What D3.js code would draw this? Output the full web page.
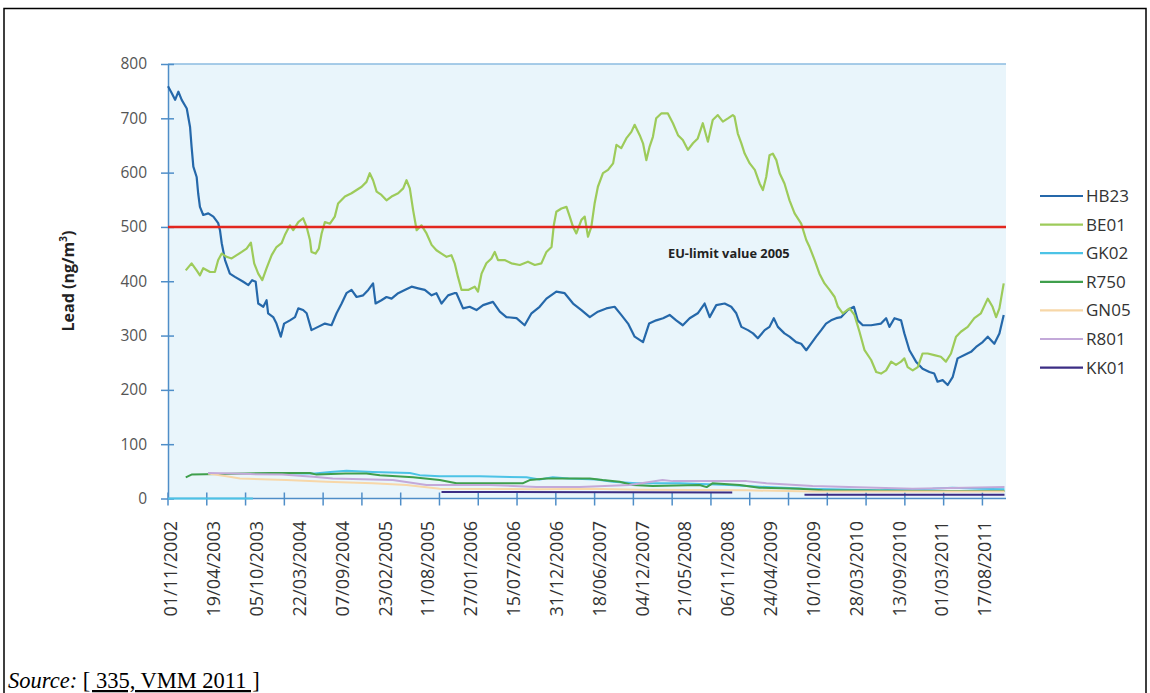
<!DOCTYPE html>
<html>
<head>
<meta charset="utf-8">
<script src="https://cdn.jsdelivr.net/npm/d3@7"></script>
<style>
  html, body { margin: 0; padding: 0; background: #fff; }
  svg { display: block; }
</style>
</head>
<body>
<svg id="chart" width="1150" height="693"></svg>
<script>
// First sampling date; series times are given as days since this date.
const startDate = "2002-11-01";
const spanDays = 3306;

// Category labels printed under the x axis.
const tickLabels = [
  "01/11/2002", "19/04/2003", "05/10/2003", "22/03/2004", "07/09/2004",
  "23/02/2005", "11/08/2005", "27/01/2006", "15/07/2006", "31/12/2006",
  "18/06/2007", "04/12/2007", "21/05/2008", "06/11/2008", "24/04/2009",
  "10/10/2009", "28/03/2010", "13/09/2010", "01/03/2011", "17/08/2011"
];
const tickMarkCount = 22;
const tickMarkStepDays = 153;

const yTicks = [0, 100, 200, 300, 400, 500, 600, 700, 800];
const limitValue = 500;
const limitLabel = "EU-limit value 2005";

const seriesNames = ["HB23", "BE01", "GK02", "R750", "GN05", "R801", "KK01"];
const seriesColors = ["#2568aa", "#9dcb5a", "#4cc3e6", "#3f9f4c", "#f7d7a8", "#c3a9d9", "#3b2d84"];

// Lead concentration, ng/m3: [days since start, value]
const hb23 = [[0,759],[15,746],[28,734],[41,749],[54,734],[74,718],[87,684],[93,648],[100,611],[113,592],[119,562],[126,537],[139,522],[159,525],[179,519],[198,507],[205,494],[212,470],[225,439],[244,414],[264,408],[297,399],[317,393],[332,402],[346,399],[356,359],[376,353],[389,365],[395,341],[415,334],[428,322],[445,298],[458,322],[481,328],[501,334],[514,350],[533,347],[547,341],[566,310],[592,316],[619,322],[645,319],[665,341],[685,359],[704,378],[724,384],[744,371],[770,374],[790,384],[809,396],[819,359],[842,365],[862,371],[882,368],[908,378],[934,384],[961,390],[987,387],[1013,384],[1040,374],[1059,378],[1079,359],[1105,374],[1129,378],[1138,378],[1164,350],[1190,353],[1217,347],[1243,356],[1282,362],[1309,344],[1335,334],[1375,332],[1407,319],[1434,341],[1466,353],[1493,368],[1532,381],[1565,378],[1598,359],[1631,347],[1664,334],[1696,344],[1729,350],[1762,353],[1788,338],[1815,322],[1841,298],[1874,288],[1898,322],[1926,328],[1953,332],[1979,338],[2005,328],[2031,319],[2058,332],[2090,341],[2117,359],[2137,334],[2163,356],[2196,359],[2222,353],[2242,341],[2262,316],[2288,310],[2308,304],[2327,295],[2354,310],[2373,316],[2390,332],[2406,316],[2432,304],[2452,298],[2478,288],[2498,285],[2518,273],[2537,285],[2557,298],[2577,310],[2596,322],[2616,328],[2636,332],[2656,334],[2682,347],[2706,353],[2721,328],[2741,319],[2774,319],[2813,322],[2833,332],[2846,316],[2866,332],[2892,328],[2905,304],[2925,273],[2951,252],[2977,239],[3004,233],[3023,230],[3036,215],[3056,218],[3076,209],[3096,224],[3115,258],[3142,264],[3168,270],[3188,279],[3214,288],[3234,298],[3260,285],[3280,304],[3297,338]];

const be01 = [[70,420],[93,433],[113,420],[126,411],[139,424],[166,417],[185,417],[198,439],[212,451],[231,445],[251,442],[271,448],[291,454],[310,460],[327,471],[340,433],[356,414],[372,402],[389,424],[409,448],[428,463],[448,470],[461,485],[481,503],[494,494],[514,509],[533,516],[547,500],[560,476],[566,454],[582,451],[595,460],[606,488],[619,509],[639,506],[658,519],[671,543],[698,556],[724,562],[744,568],[764,574],[783,583],[796,599],[809,586],[823,565],[842,559],[862,549],[882,556],[908,562],[928,571],[941,586],[954,571],[967,531],[981,494],[1000,503],[1020,488],[1040,467],[1059,457],[1079,451],[1099,445],[1118,448],[1131,433],[1144,408],[1158,384],[1184,384],[1210,390],[1223,381],[1237,414],[1256,433],[1276,442],[1289,454],[1302,439],[1328,439],[1355,433],[1388,430],[1420,436],[1447,430],[1473,433],[1493,454],[1513,463],[1522,503],[1532,528],[1552,534],[1572,537],[1585,519],[1598,500],[1611,488],[1631,513],[1644,519],[1657,482],[1670,500],[1683,543],[1696,574],[1716,599],[1736,605],[1756,617],[1769,651],[1788,645],[1808,663],[1828,675],[1841,688],[1861,669],[1874,654],[1887,623],[1900,648],[1913,666],[1926,700],[1946,709],[1972,709],[1992,691],[2012,669],[2031,660],[2051,642],[2071,654],[2090,663],[2110,691],[2130,657],[2149,697],[2169,706],[2189,694],[2209,700],[2228,706],[2235,703],[2248,672],[2262,654],[2275,635],[2295,617],[2315,605],[2334,580],[2347,568],[2360,592],[2373,632],[2386,635],[2400,623],[2413,599],[2432,580],[2452,549],[2472,525],[2498,506],[2518,476],[2531,463],[2551,439],[2570,414],[2590,396],[2610,384],[2630,371],[2643,353],[2662,341],[2689,350],[2708,338],[2728,307],[2748,273],[2774,255],[2794,233],[2813,230],[2833,236],[2853,252],[2872,246],[2892,252],[2905,258],[2918,242],[2938,236],[2958,242],[2977,267],[2997,267],[3023,264],[3049,261],[3069,252],[3089,267],[3109,298],[3128,307],[3155,316],[3181,332],[3207,341],[3234,368],[3253,353],[3267,334],[3280,350],[3297,396]];

// GK02 reports zero before its first valid reading
const gk02 = [[0,0],[335,0],[336,null],[345,45],[460,46],[579,46],[640,49],[704,51],[808,49],[954,47],[993,43],[1072,41],[1230,41],[1414,39],[1466,35],[1518,39],[1580,37],[1690,35],[1754,31],[1848,28],[2018,28],[2215,25],[2361,21],[2518,18],[2807,15],[3016,18],[3094,20],[3201,18],[3300,17]];

const r750 = [[70,39],[93,44],[200,45],[300,46],[415,47],[560,47],[586,44],[700,46],[783,46],[836,43],[967,39],[1072,34],[1138,28],[1399,28],[1427,34],[1493,37],[1664,37],[1715,34],[1782,31],[1833,25],[1912,23],[2097,25],[2125,21],[2148,28],[2255,25],[2333,20],[2491,18],[2582,15],[2964,14],[3300,14]];

const gn05 = [[158,46],[231,41],[284,37],[468,34],[626,31],[808,28],[941,25],[1072,18],[1466,17],[1664,18],[1861,16],[2282,15],[2543,13],[3300,13]];

const r801 = [[158,47],[257,46],[323,45],[450,44],[573,40],[650,37],[809,35],[887,34],[1020,25],[1269,25],[1453,21],[1624,21],[1821,25],[1951,34],[1991,32],[2282,32],[2361,28],[2543,23],[2937,18],[3300,21]];

const kk01 = [[1079,12],[2226,11],[2370,null],[2511,7],[3300,7]];

const seriesData = [hb23, be01, gk02, r750, gn05, r801, kk01];

const svg = d3.select("#chart");
const font = "'Open Sans', 'Noto Sans', sans-serif";
const axisColor = "#4f8ec8";

const start = d3.utcParse("%Y-%m-%d")(startDate);
const parseLabel = d3.utcParse("%d/%m/%Y");

const plot = { left: 168, right: 1006, top: 64, bottom: 498.5 };

const x = d3.scaleUtc()
  .domain([start, d3.utcDay.offset(start, spanDays)])
  .range([plot.left, plot.right]);
const y = d3.scaleLinear().domain([0, 800]).range([plot.bottom, plot.top]);

// outer frame
svg.append("path")
  .attr("d", "M4,700 V8.5 H1146 V700")
  .attr("fill", "none").attr("stroke", "#000").attr("stroke-width", 1.5);

// plot area background
svg.append("rect")
  .attr("x", plot.left).attr("y", plot.top)
  .attr("width", plot.right - plot.left).attr("height", plot.bottom - plot.top)
  .attr("fill", "#e9f5fb");
svg.append("line")
  .attr("x1", plot.left).attr("x2", plot.right)
  .attr("y1", plot.top).attr("y2", plot.top)
  .attr("stroke", "#8bbbe0").attr("stroke-width", 1.5);

// y axis
const yAxis = svg.append("g")
  .attr("transform", `translate(${plot.left},0)`)
  .call(d3.axisLeft(y).tickValues(yTicks).tickSize(7).tickSizeOuter(0).tickPadding(14));
yAxis.select(".domain").attr("stroke", axisColor).attr("stroke-width", 1.5);
yAxis.selectAll(".tick line").attr("x1", 6).attr("x2", -7).attr("stroke", axisColor).attr("stroke-width", 1.5);
yAxis.selectAll(".tick text")
  .attr("font-family", font).attr("font-size", 15.5).attr("fill", "#555");

// y axis title
const yTitle = svg.append("text")
  .attr("transform", "translate(74,281) rotate(-90)")
  .attr("text-anchor", "middle")
  .attr("font-family", font).attr("font-size", 16).attr("font-weight", "bold").attr("fill", "#222");
yTitle.append("tspan").text("Lead (ng/m");
yTitle.append("tspan").attr("font-size", 10).attr("dy", -7).text("3");
yTitle.append("tspan").attr("dy", 7).text(")");

// x axis line and tick marks
const xAxis = svg.append("g");
xAxis.append("line")
  .attr("x1", plot.left).attr("x2", plot.right)
  .attr("y1", plot.bottom).attr("y2", plot.bottom)
  .attr("stroke", axisColor).attr("stroke-width", 1.5);
const tickMarks = d3.range(tickMarkCount).map(i => d3.utcDay.offset(start, i * tickMarkStepDays));
xAxis.selectAll("line.mark").data(tickMarks).join("line")
  .attr("class", "mark")
  .attr("x1", d => x(d)).attr("x2", d => x(d))
  .attr("y1", plot.bottom - 6).attr("y2", plot.bottom + 7)
  .attr("stroke", axisColor).attr("stroke-width", 1.5);
xAxis.selectAll("text").data(tickLabels).join("text")
  .attr("transform", d => `translate(${x(parseLabel(d)) + 3},521) rotate(-90)`)
  .attr("text-anchor", "end")
  .attr("dy", "0.35em")
  .attr("font-family", font).attr("font-size", 18).attr("fill", "#333")
  .text(d => d);

// series lines
const line = d3.line()
  .defined(d => d[1] !== null)
  .x(d => x(d3.utcDay.offset(start, d[0])))
  .y(d => y(d[1]));

svg.append("g").selectAll("path").data(seriesData).join("path")
  .attr("d", d => line(d))
  .attr("fill", "none")
  .attr("stroke", (d, i) => seriesColors[i])
  .attr("stroke-width", (d, i) => i < 2 ? 2.2 : 2)
  .attr("stroke-linejoin", "round");

// limit value line
svg.append("line")
  .attr("x1", plot.left).attr("x2", plot.right)
  .attr("y1", y(limitValue)).attr("y2", y(limitValue))
  .attr("stroke", "#e2271f").attr("stroke-width", 2.5);
svg.append("text")
  .attr("x", 668).attr("y", 258)
  .attr("font-family", font).attr("font-size", 12.8).attr("font-weight", "bold").attr("fill", "#222")
  .text(limitLabel);

// legend
const legend = svg.append("g").attr("transform", "translate(1040,196)");
const rows = legend.selectAll("g").data(seriesNames).join("g")
  .attr("transform", (d, i) => `translate(0,${i * 28.6})`);
rows.append("line")
  .attr("x1", 0).attr("x2", 43)
  .attr("stroke", (d, i) => seriesColors[i]).attr("stroke-width", 2.2);
rows.append("text")
  .attr("x", 46).attr("dy", "0.35em")
  .attr("font-family", font).attr("font-size", 17).attr("fill", "#333")
  .text(d => d);

// source line
const src = svg.append("text")
  .attr("x", 8).attr("y", 688)
  .attr("font-family", "'Liberation Serif', 'Times New Roman', serif").attr("font-size", 22.5).attr("fill", "#000");
src.append("tspan").attr("font-style", "italic").text("Source:");
src.append("tspan").text(" ");
src.append("tspan").attr("text-decoration", "underline").text("[ 335, VMM 2011 ]");
</script>
</body>
</html>
